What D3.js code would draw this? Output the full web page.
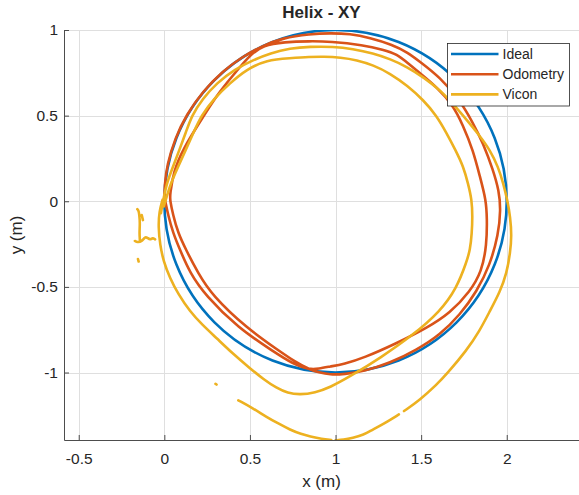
<!DOCTYPE html>
<html>
<head>
<meta charset="utf-8">
<script src="https://cdn.jsdelivr.net/npm/d3@7"></script>
<style>
  body { margin: 0; background: #fff; }
  svg { display: block; }
  text { font-family: "Liberation Sans", Arial, Helvetica, sans-serif; fill: #262626; }
</style>
</head>
<body>
<svg id="chart" width="579" height="495"></svg>
<script>
// Axis limits and ticks
const xLimits = [-0.586, 2.422];
const yLimits = [-1.394, 1.0];
const xTicks = [-0.5, 0, 0.5, 1, 1.5, 2];
const yTicks = [-1, -0.5, 0, 0.5, 1];
const xTickLabels = ["-0.5", "0", "0.5", "1", "1.5", "2"];
const yTickLabels = ["-1", "-0.5", "0", "0.5", "1"];

// Ideal helix projection: unit circle centred at (1, 0)
const idealCenterX = 1;
const idealCenterY = 0;
const idealRadius = 1;

// Odometry estimate (two laps)
const odomX = [
  0.000, 0.002, 0.016, 0.063, 0.129, 0.224, 0.340, 0.445, 0.567, 0.692, 0.851, 0.968, 1.085, 1.200, 1.330, 1.420,
  1.493, 1.609, 1.726, 1.803, 1.862, 1.920, 1.955, 1.965, 1.951, 1.902, 1.825, 1.727, 1.610, 1.474, 1.318, 1.162,
  1.050, 0.968, 0.900, 0.851, 0.760, 0.676, 0.481, 0.277, 0.197, 0.127, 0.080, 0.051, 0.033,
  0.033, 0.053, 0.111, 0.209, 0.306, 0.403, 0.500, 0.578, 0.700, 0.850, 0.968, 1.162, 1.280, 1.357, 1.430,
  1.493, 1.592, 1.686, 1.744, 1.803, 1.844, 1.879, 1.885, 1.883, 1.854, 1.786, 1.669, 1.532, 1.357, 1.162,
  1.050, 0.968, 0.900, 0.851, 0.750, 0.637, 0.432, 0.238, 0.150, 0.092, 0.051, 0.022, 0.004
];
const odomY = [
  0.000, 0.100, 0.213, 0.369, 0.505, 0.641, 0.758, 0.837, 0.905, 0.954, 0.977, 0.982, 0.978, 0.955, 0.915, 0.870,
  0.815, 0.725, 0.591, 0.457, 0.340, 0.183, 0.060, -0.050, -0.195, -0.372, -0.527, -0.663, -0.780, -0.868, -0.945, -0.994,
  -1.010, -1.013, -0.998, -0.984, -0.935, -0.877, -0.741, -0.547, -0.419, -0.285, -0.185, -0.080, 0.008,
  0.037, 0.173, 0.309, 0.465, 0.620, 0.737, 0.854, 0.912, 0.930, 0.935, 0.933, 0.912, 0.885, 0.860, 0.800,
  0.748, 0.666, 0.561, 0.445, 0.299, 0.141, 0.008, -0.100, -0.255, -0.410, -0.527, -0.653, -0.741, -0.829, -0.916,
  -0.950, -0.965, -0.978, -0.984, -0.950, -0.877, -0.741, -0.547, -0.419, -0.285, -0.185, -0.080, 0.008
];

// Vicon ground truth (null marks dropouts between tracked segments)
const viconX = [
  -0.020, -0.008, 0.012, 0.050, 0.088, 0.125, 0.160, 0.225, 0.306, 0.410, 0.520, 0.620, 0.734, 0.850, 0.987, 1.100,
  1.220, 1.320, 1.416, 1.520, 1.610, 1.690, 1.766, 1.840, 1.902, 1.950, 1.980, 2.005, 2.020, 2.029, 2.020, 2.000,
  1.960, 1.902, 1.840, 1.766, 1.649, 1.591, 1.493, 1.400, null,
  1.370, 1.280, 1.200, 1.162, 1.100, 1.046, 1.000, null,
  0.975, 0.920, 0.851, 0.800, 0.734, 0.670, 0.598, 0.520, 0.432, null,
  0.299, 0.305, null,
  -0.154, -0.150, null,
  -0.158, -0.150, -0.146, -0.142, -0.146, -0.142, null,
  -0.172, -0.158, -0.132, -0.113, -0.100, -0.083, -0.068, -0.054, null,
  -0.132, -0.125, null,
  -0.003, 0.035, 0.080, 0.125, 0.170, 0.215, 0.290, 0.384, 0.480, 0.598, 0.734, 0.850, 0.929, 1.030, 1.124, 1.220,
  1.318, 1.420, 1.513, 1.590, 1.649, 1.700, 1.747, 1.775, 1.796, 1.800, 1.796, 1.786, 1.766, 1.708, 1.610, 1.454,
  1.260, 1.085, 0.968, 0.880, 0.792, 0.720, 0.656, 0.580, 0.500, 0.400, 0.306, 0.220, 0.150, 0.080, 0.033, -0.005,
  -0.025, -0.035, -0.030, -0.010
];
const viconY = [
  -0.070, 0.000, 0.100, 0.200, 0.300, 0.400, 0.500, 0.600, 0.690, 0.770, 0.825, 0.865, 0.893, 0.903, 0.903, 0.890,
  0.864, 0.830, 0.786, 0.720, 0.650, 0.565, 0.475, 0.385, 0.300, 0.200, 0.105, 0.000, -0.090, -0.200, -0.300, -0.420,
  -0.530, -0.640, -0.760, -0.870, -1.010, -1.070, -1.160, -1.225, null,
  -1.245, -1.300, -1.342, -1.364, -1.382, -1.393, -1.396, null,
  -1.394, -1.388, -1.373, -1.360, -1.334, -1.300, -1.260, -1.210, -1.162, null,
  -1.066, -1.070, null,
  -0.337, -0.352, null,
  -0.046, -0.055, -0.080, -0.128, -0.187, -0.236, null,
  -0.232, -0.240, -0.236, -0.207, -0.212, -0.226, -0.213, -0.222, null,
  -0.080, -0.110, null,
  -0.030, 0.100, 0.200, 0.300, 0.400, 0.500, 0.600, 0.690, 0.770, 0.825, 0.835, 0.843, 0.845, 0.840, 0.825, 0.795,
  0.747, 0.675, 0.591, 0.500, 0.397, 0.300, 0.202, 0.100, 0.008, -0.090, -0.187, -0.284, -0.352, -0.507, -0.644, -0.780,
  -0.916, -1.023, -1.087, -1.118, -1.130, -1.120, -1.091, -1.040, -0.975, -0.890, -0.800, -0.720, -0.644, -0.540, -0.449, -0.350,
  -0.255, -0.150, -0.060, 0.010
];

const seriesNames = ["Ideal", "Odometry", "Vicon"];
const seriesColors = ["#0072BD", "#D95319", "#EDB120"];

const svg = d3.select("#chart");
const plotLeft = 64, plotRight = 579, plotTop = 30, plotBottom = 440;

const x = d3.scaleLinear().domain(xLimits).range([plotLeft, plotRight]);
const y = d3.scaleLinear().domain(yLimits).range([plotBottom, plotTop]);

// Grid
const grid = svg.append("g").attr("stroke", "#dfdfdf").attr("stroke-width", 1);
grid.selectAll("line.gx").data(xTicks).join("line")
  .attr("x1", d => Math.round(x(d)) + 0.5).attr("x2", d => Math.round(x(d)) + 0.5)
  .attr("y1", plotTop).attr("y2", plotBottom);
grid.selectAll("line.gy").data(yTicks).join("line")
  .attr("y1", d => Math.round(y(d)) + 0.5).attr("y2", d => Math.round(y(d)) + 0.5)
  .attr("x1", plotLeft).attr("x2", plotRight);

// Data layer, clipped to the axes box
svg.append("clipPath").attr("id", "plot-clip").append("rect")
  .attr("x", plotLeft).attr("y", plotTop)
  .attr("width", plotRight - plotLeft).attr("height", plotBottom - plotTop);
const plot = svg.append("g").attr("clip-path", "url(#plot-clip)")
  .attr("fill", "none").attr("stroke-width", 2.6)
  .attr("stroke-linejoin", "round").attr("stroke-linecap", "round");

// Ideal
plot.append("ellipse")
  .attr("cx", x(idealCenterX)).attr("cy", y(idealCenterY))
  .attr("rx", x(idealCenterX + idealRadius) - x(idealCenterX))
  .attr("ry", y(idealCenterY) - y(idealCenterY + idealRadius))
  .attr("stroke", seriesColors[0]);

// Odometry
const odomLine = d3.line()
  .x(i => x(odomX[i])).y(i => y(odomY[i]))
  .curve(d3.curveBasis);
plot.append("path").attr("d", odomLine(d3.range(odomX.length))).attr("stroke", seriesColors[1]);

// Vicon
const viconLine = d3.line()
  .defined(i => viconX[i] !== null && viconY[i] !== null)
  .x(i => x(viconX[i])).y(i => y(viconY[i]))
  .curve(d3.curveBasis);
plot.append("path").attr("d", viconLine(d3.range(viconX.length))).attr("stroke", seriesColors[2]);

// Axes (left and bottom only, ticks pointing inward)
const fontTick = "15.5px";
const xAxis = svg.append("g").attr("transform", `translate(0,${plotBottom})`)
  .call(d3.axisBottom(x).tickValues(xTicks).tickFormat((d, i) => xTickLabels[i])
    .tickSizeInner(-5).tickSizeOuter(0).tickPadding(13));
const yAxis = svg.append("g").attr("transform", `translate(${plotLeft},0)`)
  .call(d3.axisLeft(y).tickValues(yTicks).tickFormat((d, i) => yTickLabels[i])
    .tickSizeInner(-5).tickSizeOuter(0).tickPadding(6));
[xAxis, yAxis].forEach(g => {
  g.select(".domain").attr("stroke", "#4d4d4d").attr("stroke-width", 1);
  g.selectAll(".tick line").attr("stroke", "#4d4d4d");
  g.selectAll(".tick text").attr("font-size", fontTick).attr("fill", "#262626")
    .style("font-family", '"Liberation Sans", Arial, Helvetica, sans-serif');
  g.attr("font-size", null).attr("font-family", null);
});

// Title and axis labels
svg.append("text").attr("x", (plotLeft + plotRight) / 2).attr("y", 18)
  .attr("text-anchor", "middle").attr("font-size", "17px").attr("font-weight", "bold")
  .attr("fill", "#000").text("Helix - XY");
svg.append("text").attr("x", (plotLeft + plotRight) / 2).attr("y", 487)
  .attr("text-anchor", "middle").attr("font-size", "17px").text("x (m)");
svg.append("text").attr("transform", `translate(22,${(plotTop + plotBottom) / 2}) rotate(-90)`)
  .attr("text-anchor", "middle").attr("font-size", "17px").text("y (m)");

// Legend
const legend = svg.append("g").attr("transform", "translate(447.5,43.5)");
legend.append("rect").attr("width", 122).attr("height", 62.5)
  .attr("fill", "#fff").attr("stroke", "#262626").attr("stroke-width", 0.8);
const items = legend.selectAll("g.item").data(seriesNames).join("g")
  .attr("transform", (d, i) => `translate(0,${10.5 + i * 20.2})`);
items.append("line").attr("x1", 3.5).attr("x2", 51).attr("y1", 0).attr("y2", 0)
  .attr("stroke", (d, i) => seriesColors[i]).attr("stroke-width", 2.6);
items.append("text").attr("x", 55).attr("y", 0).attr("dy", "0.35em")
  .attr("font-size", "14px").text(d => d);
</script>
</body>
</html>
